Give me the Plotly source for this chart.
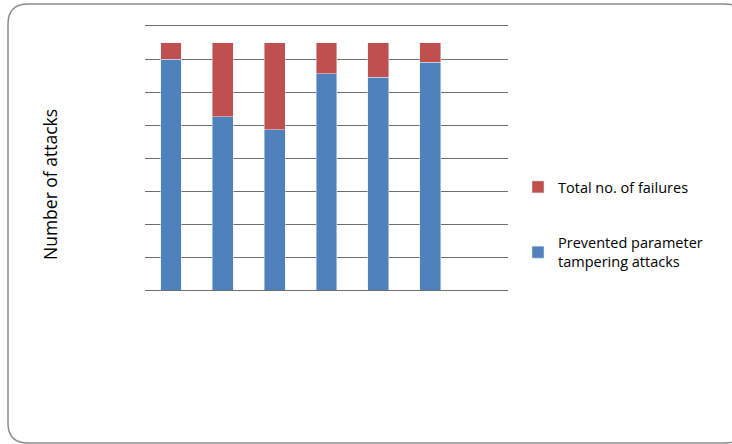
import plotly.graph_objects as go

categories = [1, 2, 3, 4, 5, 6]
prevented = [140, 105, 97, 131, 129, 138]
failures = [10, 45, 53, 19, 21, 12]
series_names = ["Prevented parameter<br>tampering attacks", "Total no. of failures"]
y_title = "Number of attacks"

W, H = 732, 444
L, R, T, B = 145, 224, 26, 154
pw, ph = W - L - R, H - T - B


def px(x):
    return (x - L) / pw


def py(y):
    return (H - B - y) / ph


fig = go.Figure()
fig.add_trace(go.Bar(x=categories, y=prevented, name=series_names[0],
                     marker_color="#4F81BD", width=0.4, legendgroup="a", legendrank=2))
fig.add_trace(go.Bar(x=categories, y=failures, name=series_names[1],
                     marker_color="#C0504D", width=0.4, legendgroup="b", legendrank=1))

# rounded frame
x0, x1, y0, y1, r = 8, 745, 4, 443, 20
path = (f"M {px(x0+r)},{py(y0)} L {px(x1-r)},{py(y0)} "
        f"Q {px(x1)},{py(y0)} {px(x1)},{py(y0+r)} L {px(x1)},{py(y1-r)} "
        f"Q {px(x1)},{py(y1)} {px(x1-r)},{py(y1)} L {px(x0+r)},{py(y1)} "
        f"Q {px(x0)},{py(y1)} {px(x0)},{py(y1-r)} L {px(x0)},{py(y0+r)} "
        f"Q {px(x0)},{py(y0)} {px(x0+r)},{py(y0)} Z")

fig.update_layout(
    width=W, height=H,
    margin=dict(l=L, r=R, t=T, b=B),
    paper_bgcolor="white", plot_bgcolor="white",
    barmode="stack",
    font=dict(family="Open Sans", color="#000000"),
    showlegend=True,
    legend=dict(x=px(518), y=py(171), xanchor="left", yanchor="top",
                traceorder="grouped", tracegroupgap=34,
                font=dict(size=14.5, family="Open Sans"), bgcolor="rgba(0,0,0,0)"),
    xaxis=dict(range=[0.5, 7.5], showticklabels=False, showgrid=False,
               zeroline=False, showline=True, mirror=True, linecolor="#6e6e6e",
               linewidth=1, ticks=""),
    yaxis=dict(range=[0, 160], dtick=20, showticklabels=False, showgrid=True,
               gridcolor="#6e6e6e", gridwidth=1, zeroline=False,
               showline=False, ticks=""),
    shapes=[dict(type="path", xref="paper", yref="paper", path=path,
                 line=dict(color="#8c8c8c", width=1.5), layer="below")],
    annotations=[dict(text=y_title, xref="paper", yref="paper", x=px(50), y=py(185),
                      textangle=-90, showarrow=False, font=dict(size=17.5, family="Open Sans"),
                      xanchor="center", yanchor="middle")],
)

fig.write_html("out.html")
